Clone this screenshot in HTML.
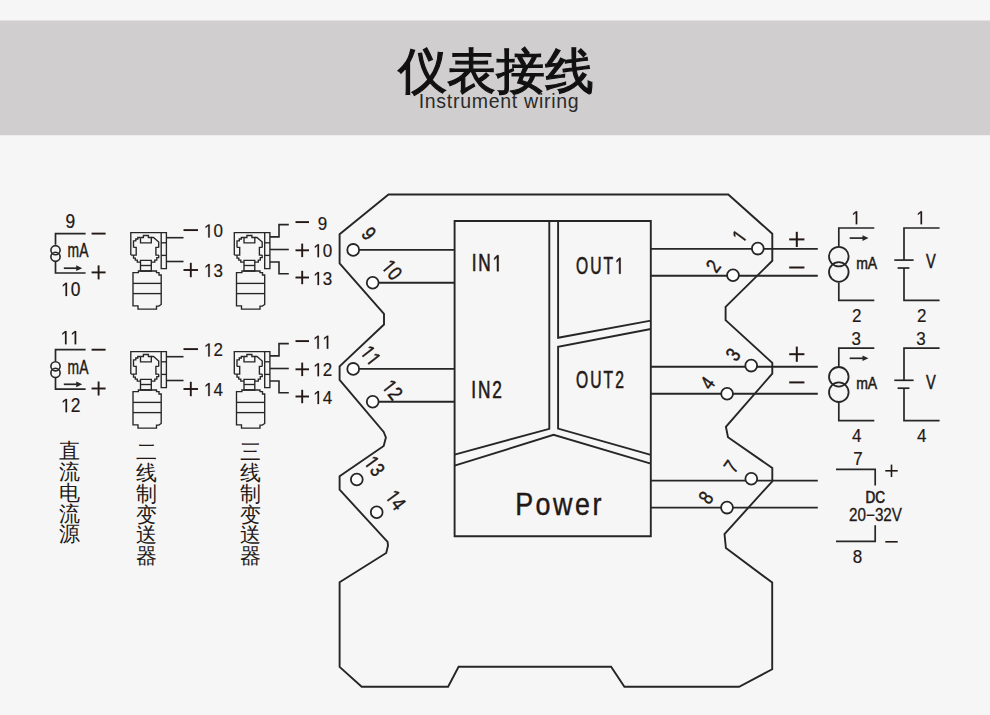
<!DOCTYPE html>
<html><head><meta charset="utf-8"><style>
html,body{margin:0;padding:0;background:#f6f6f6;}
body{width:990px;height:715px;overflow:hidden;position:relative;font-family:"Liberation Sans",sans-serif;}
#title{position:absolute;left:1px;width:990px;top:41px;text-align:center;font-size:48.6px;line-height:60px;color:#111;-webkit-text-stroke:1.2px #111;}
#sub{position:absolute;left:4px;width:990px;top:88.5px;text-align:center;font-size:19.5px;line-height:24px;color:#2a2a2a;letter-spacing:0.72px;}
svg{position:absolute;left:0;top:0;z-index:0;}
#title,#sub{z-index:1;}
</style></head><body>
<div id="title">仪表接线</div>
<div id="sub">Instrument wiring</div>
<svg width="990" height="715" viewBox="0 0 990 715">
<rect x="0" y="20.5" width="990" height="114.7" fill="#d0cecf"/>
<path d="M388.5,194.5 L728.3,194.5 L772.3,233.8 L772.3,260.8 L725.6,306.9 L725.6,320.1 L772.3,362.9 L772.3,373.6 L725.9,426.8 L728.0,437.3 L772.3,468.0 L772.3,481.3 L724.5,534.0 L725.9,548.0 L772.2,582.6 L772.2,669.3 L739.1,686.8 L624.4,686.8 L611.1,666.8 L458.6,666.8 L448.1,686.7 L361.7,686.7 L339.6,666.9 L339.6,582.2 L386.2,553.0 L388.0,545.8 L387.6,541.9 L339.6,489.7 L339.6,476.3 L383.7,446.0 L385.9,437.5 L383.7,432.0 L339.6,379.9 L339.6,366.4 L384.0,324.5 L384.0,313.8 L339.6,263.4 L339.6,234.2 Z" fill="none" stroke="#262626" stroke-width="1.9" stroke-linejoin="miter" stroke-linecap="butt"/>
<path d="M454.6,221.0 L650.8,221.0 L650.8,536.2 L454.6,536.2 Z" fill="none" stroke="#262626" stroke-width="1.9" stroke-linejoin="miter" stroke-linecap="butt"/>
<path d="M549.3,221.0 L549.3,428.8 L454.6,454.6" fill="none" stroke="#262626" stroke-width="1.9" stroke-linejoin="miter" stroke-linecap="butt"/>
<path d="M558.1,221.0 L558.1,337.8 L650.8,320.6" fill="none" stroke="#262626" stroke-width="1.9" stroke-linejoin="miter" stroke-linecap="butt"/>
<path d="M650.8,329.0 L558.1,346.7 L558.1,428.6 L650.8,454.8" fill="none" stroke="#262626" stroke-width="1.9" stroke-linejoin="miter" stroke-linecap="butt"/>
<path d="M454.6,465.7 L553.6,434.8 L650.8,463.6" fill="none" stroke="#262626" stroke-width="1.9" stroke-linejoin="miter" stroke-linecap="butt"/>
<path d="M353.2,249.9 L454.6,249.9" fill="none" stroke="#262626" stroke-width="1.9" stroke-linejoin="miter" stroke-linecap="butt"/>
<path d="M372.7,282.8 L454.6,282.8" fill="none" stroke="#262626" stroke-width="1.9" stroke-linejoin="miter" stroke-linecap="butt"/>
<path d="M353.2,368.9 L454.6,368.9" fill="none" stroke="#262626" stroke-width="1.9" stroke-linejoin="miter" stroke-linecap="butt"/>
<path d="M372.7,401.7 L454.6,401.7" fill="none" stroke="#262626" stroke-width="1.9" stroke-linejoin="miter" stroke-linecap="butt"/>
<path d="M650.8,248.9 L817.8,248.9" fill="none" stroke="#262626" stroke-width="1.9" stroke-linejoin="miter" stroke-linecap="butt"/>
<path d="M650.8,275.8 L817.8,275.8" fill="none" stroke="#262626" stroke-width="1.9" stroke-linejoin="miter" stroke-linecap="butt"/>
<path d="M650.8,366.8 L817.8,366.8" fill="none" stroke="#262626" stroke-width="1.9" stroke-linejoin="miter" stroke-linecap="butt"/>
<path d="M650.8,393.8 L817.8,393.8" fill="none" stroke="#262626" stroke-width="1.9" stroke-linejoin="miter" stroke-linecap="butt"/>
<path d="M650.8,480.6 L817.8,480.6" fill="none" stroke="#262626" stroke-width="1.9" stroke-linejoin="miter" stroke-linecap="butt"/>
<path d="M650.8,507.6 L817.8,507.6" fill="none" stroke="#262626" stroke-width="1.9" stroke-linejoin="miter" stroke-linecap="butt"/>
<circle cx="353.2" cy="249.9" r="5.9" fill="#fff" stroke="#262626" stroke-width="1.8"/>
<circle cx="372.7" cy="282.8" r="5.9" fill="#fff" stroke="#262626" stroke-width="1.8"/>
<circle cx="353.2" cy="368.9" r="5.9" fill="#fff" stroke="#262626" stroke-width="1.8"/>
<circle cx="372.7" cy="401.7" r="5.9" fill="#fff" stroke="#262626" stroke-width="1.8"/>
<circle cx="356.8" cy="479.5" r="5.9" fill="#fff" stroke="#262626" stroke-width="1.8"/>
<circle cx="376.7" cy="512.2" r="5.9" fill="#fff" stroke="#262626" stroke-width="1.8"/>
<circle cx="757.8" cy="248.6" r="5.9" fill="#fff" stroke="#262626" stroke-width="1.8"/>
<circle cx="733.0" cy="275.2" r="5.9" fill="#fff" stroke="#262626" stroke-width="1.8"/>
<circle cx="751.2" cy="365.6" r="5.9" fill="#fff" stroke="#262626" stroke-width="1.8"/>
<circle cx="727.1" cy="393.8" r="5.9" fill="#fff" stroke="#262626" stroke-width="1.8"/>
<circle cx="751.3" cy="478.8" r="5.9" fill="#fff" stroke="#262626" stroke-width="1.8"/>
<circle cx="727.0" cy="507.6" r="5.9" fill="#fff" stroke="#262626" stroke-width="1.8"/>
<g transform="translate(369.00,233.50) rotate(50) scale(0.82,1)" font-family="Liberation Sans" font-size="20.5" font-weight="normal" fill="#231815" stroke="#231815" stroke-width="0.45"><text x="-5.70" y="7.28">9</text></g>
<g transform="translate(392.20,269.70) rotate(50) scale(0.82,1)" font-family="Liberation Sans" font-size="20.5" font-weight="normal" fill="#231815" stroke="#231815" stroke-width="0.45"><path transform="translate(-11.40,7.28) scale(0.01001,-0.01001)" d="M515 0V1237L197 1010V1180L530 1409H696V0Z" fill="#231815" stroke="#231815" stroke-width="45.0"/><text x="0.00" y="7.28">0</text></g>
<g transform="translate(371.00,355.50) rotate(52) scale(0.82,1)" font-family="Liberation Sans" font-size="20.5" font-weight="normal" fill="#231815" stroke="#231815" stroke-width="0.45"><path transform="translate(-11.40,7.28) scale(0.01001,-0.01001)" d="M515 0V1237L197 1010V1180L530 1409H696V0Z" fill="#231815" stroke="#231815" stroke-width="45.0"/><path transform="translate(0.00,7.28) scale(0.01001,-0.01001)" d="M515 0V1237L197 1010V1180L530 1409H696V0Z" fill="#231815" stroke="#231815" stroke-width="45.0"/></g>
<g transform="translate(392.70,389.70) rotate(52) scale(0.82,1)" font-family="Liberation Sans" font-size="20.5" font-weight="normal" fill="#231815" stroke="#231815" stroke-width="0.45"><path transform="translate(-11.40,7.28) scale(0.01001,-0.01001)" d="M515 0V1237L197 1010V1180L530 1409H696V0Z" fill="#231815" stroke="#231815" stroke-width="45.0"/><text x="0.00" y="7.28">2</text></g>
<g transform="translate(374.80,465.90) rotate(54) scale(0.82,1)" font-family="Liberation Sans" font-size="20.5" font-weight="normal" fill="#231815" stroke="#231815" stroke-width="0.45"><path transform="translate(-11.40,7.28) scale(0.01001,-0.01001)" d="M515 0V1237L197 1010V1180L530 1409H696V0Z" fill="#231815" stroke="#231815" stroke-width="45.0"/><text x="0.00" y="7.28">3</text></g>
<g transform="translate(396.00,500.00) rotate(54) scale(0.82,1)" font-family="Liberation Sans" font-size="20.5" font-weight="normal" fill="#231815" stroke="#231815" stroke-width="0.45"><path transform="translate(-11.40,7.28) scale(0.01001,-0.01001)" d="M515 0V1237L197 1010V1180L530 1409H696V0Z" fill="#231815" stroke="#231815" stroke-width="45.0"/><text x="0.00" y="7.28">4</text></g>
<g transform="translate(739.40,236.00) rotate(-54) scale(0.82,1)" font-family="Liberation Sans" font-size="20.5" font-weight="normal" fill="#231815" stroke="#231815" stroke-width="0.45"><path transform="translate(-5.70,7.28) scale(0.01001,-0.01001)" d="M515 0V1237L197 1010V1180L530 1409H696V0Z" fill="#231815" stroke="#231815" stroke-width="45.0"/></g>
<g transform="translate(713.20,266.00) rotate(-54) scale(0.82,1)" font-family="Liberation Sans" font-size="20.5" font-weight="normal" fill="#231815" stroke="#231815" stroke-width="0.45"><text x="-5.70" y="7.28">2</text></g>
<g transform="translate(732.80,354.50) rotate(-54) scale(0.82,1)" font-family="Liberation Sans" font-size="20.5" font-weight="normal" fill="#231815" stroke="#231815" stroke-width="0.45"><text x="-5.70" y="7.28">3</text></g>
<g transform="translate(707.40,383.00) rotate(-54) scale(0.82,1)" font-family="Liberation Sans" font-size="20.5" font-weight="normal" fill="#231815" stroke="#231815" stroke-width="0.45"><text x="-5.70" y="7.28">4</text></g>
<g transform="translate(731.00,466.40) rotate(-55) scale(0.82,1)" font-family="Liberation Sans" font-size="20.5" font-weight="normal" fill="#231815" stroke="#231815" stroke-width="0.45"><text x="-5.70" y="7.28">7</text></g>
<g transform="translate(705.70,497.50) rotate(-55) scale(0.82,1)" font-family="Liberation Sans" font-size="20.5" font-weight="normal" fill="#231815" stroke="#231815" stroke-width="0.45"><text x="-5.70" y="7.28">8</text></g>
<g transform="translate(487.00,263.00) scale(0.75,1)" font-family="Liberation Sans" font-size="23" font-weight="normal" fill="#231815" stroke="#231815" stroke-width="0.6"><text x="-20.40" y="8.16">I</text><text x="-11.51" y="8.16">N</text><path transform="translate(7.60,8.16) scale(0.01123,-0.01123)" d="M515 0V1237L197 1010V1180L530 1409H696V0Z" fill="#231815" stroke="#231815" stroke-width="53.4"/></g>
<g transform="translate(600.00,265.50) scale(0.68,1)" font-family="Liberation Sans" font-size="23" font-weight="normal" fill="#231815" stroke="#231815" stroke-width="0.6"><text x="-35.17" y="8.16">O</text><text x="-14.28" y="8.16">U</text><text x="5.33" y="8.16">T</text><path transform="translate(22.38,8.16) scale(0.01123,-0.01123)" d="M515 0V1237L197 1010V1180L530 1409H696V0Z" fill="#231815" stroke="#231815" stroke-width="53.4"/></g>
<g transform="translate(486.60,389.60) scale(0.75,1)" font-family="Liberation Sans" font-size="23" font-weight="normal" fill="#231815" stroke="#231815" stroke-width="0.6"><text x="-20.40" y="8.16">I</text><text x="-11.51" y="8.16">N</text><text x="7.60" y="8.16">2</text></g>
<g transform="translate(600.00,379.40) scale(0.68,1)" font-family="Liberation Sans" font-size="23" font-weight="normal" fill="#231815" stroke="#231815" stroke-width="0.6"><text x="-35.17" y="8.16">O</text><text x="-14.28" y="8.16">U</text><text x="5.33" y="8.16">T</text><text x="22.38" y="8.16">2</text></g>
<g transform="translate(558.30,503.90) scale(0.84,1)" font-family="Liberation Sans" font-size="32" font-weight="normal" fill="#231815" stroke="#231815" stroke-width="0.45"><text x="-51.35" y="11.36">P</text><text x="-27.01" y="11.36">o</text><text x="-6.21" y="11.36">w</text><text x="19.90" y="11.36">e</text><text x="40.70" y="11.36">r</text></g>
<path d="M85.6,233.6 L55.5,233.6 L55.5,244.8" fill="none" stroke="#262626" stroke-width="1.7" stroke-linejoin="miter" stroke-linecap="butt"/>
<circle cx="55.5" cy="250.2" r="4.6" fill="none" stroke="#262626" stroke-width="1.6"/>
<circle cx="55.5" cy="256.8" r="4.6" fill="none" stroke="#262626" stroke-width="1.6"/>
<path d="M55.5,261.8 L55.5,273.0 L85.6,273.0" fill="none" stroke="#262626" stroke-width="1.7" stroke-linejoin="miter" stroke-linecap="butt"/>
<path d="M63.8,268.2 L76.7,268.2" fill="none" stroke="#262626" stroke-width="1.7" stroke-linejoin="miter" stroke-linecap="butt"/>
<path d="M76.2,265.3 L82.2,268.2 L76.2,271.1 Z" fill="#262626"/>
<g transform="translate(78.00,250.60) scale(0.72,1)" font-family="Liberation Sans" font-size="19.3" font-weight="normal" fill="#231815" stroke="#231815" stroke-width="0.4"><text x="-14.48" y="6.85">m</text><text x="1.60" y="6.85">A</text></g>
<g transform="translate(70.30,221.40) scale(0.9,1)" font-family="Liberation Sans" font-size="19.3" font-weight="normal" fill="#231815" stroke="#231815" stroke-width="0.2"><text x="-5.37" y="6.85">9</text></g>
<g transform="translate(70.80,289.20) scale(0.9,1)" font-family="Liberation Sans" font-size="19.3" font-weight="normal" fill="#231815" stroke="#231815" stroke-width="0.2"><path transform="translate(-10.73,6.85) scale(0.00942,-0.00942)" d="M515 0V1237L197 1010V1180L530 1409H696V0Z" fill="#231815" stroke="#231815" stroke-width="21.2"/><text x="0.00" y="6.85">0</text></g>
<path d="M91.6,233.6 L105.6,233.6" fill="none" stroke="#231815" stroke-width="1.9" stroke-linejoin="miter" stroke-linecap="butt"/>
<path d="M91.6,272.4 L105.6,272.4" fill="none" stroke="#231815" stroke-width="1.9" stroke-linejoin="miter" stroke-linecap="butt"/>
<path d="M98.6,265.4 L98.6,279.4" fill="none" stroke="#231815" stroke-width="1.9" stroke-linejoin="miter" stroke-linecap="butt"/>
<path d="M85.6,349.7 L55.5,349.7 L55.5,360.9" fill="none" stroke="#262626" stroke-width="1.7" stroke-linejoin="miter" stroke-linecap="butt"/>
<circle cx="55.5" cy="366.3" r="4.6" fill="none" stroke="#262626" stroke-width="1.6"/>
<circle cx="55.5" cy="372.9" r="4.6" fill="none" stroke="#262626" stroke-width="1.6"/>
<path d="M55.5,377.9 L55.5,389.1 L85.6,389.1" fill="none" stroke="#262626" stroke-width="1.7" stroke-linejoin="miter" stroke-linecap="butt"/>
<path d="M63.8,384.3 L76.7,384.3" fill="none" stroke="#262626" stroke-width="1.7" stroke-linejoin="miter" stroke-linecap="butt"/>
<path d="M76.2,381.4 L82.2,384.3 L76.2,387.2 Z" fill="#262626"/>
<g transform="translate(78.00,366.70) scale(0.72,1)" font-family="Liberation Sans" font-size="19.3" font-weight="normal" fill="#231815" stroke="#231815" stroke-width="0.4"><text x="-14.48" y="6.85">m</text><text x="1.60" y="6.85">A</text></g>
<g transform="translate(70.30,337.50) scale(0.9,1)" font-family="Liberation Sans" font-size="19.3" font-weight="normal" fill="#231815" stroke="#231815" stroke-width="0.2"><path transform="translate(-10.73,6.85) scale(0.00942,-0.00942)" d="M515 0V1237L197 1010V1180L530 1409H696V0Z" fill="#231815" stroke="#231815" stroke-width="21.2"/><path transform="translate(0.00,6.85) scale(0.00942,-0.00942)" d="M515 0V1237L197 1010V1180L530 1409H696V0Z" fill="#231815" stroke="#231815" stroke-width="21.2"/></g>
<g transform="translate(70.80,405.30) scale(0.9,1)" font-family="Liberation Sans" font-size="19.3" font-weight="normal" fill="#231815" stroke="#231815" stroke-width="0.2"><path transform="translate(-10.73,6.85) scale(0.00942,-0.00942)" d="M515 0V1237L197 1010V1180L530 1409H696V0Z" fill="#231815" stroke="#231815" stroke-width="21.2"/><text x="0.00" y="6.85">2</text></g>
<path d="M91.6,349.7 L105.6,349.7" fill="none" stroke="#231815" stroke-width="1.9" stroke-linejoin="miter" stroke-linecap="butt"/>
<path d="M91.6,388.5 L105.6,388.5" fill="none" stroke="#231815" stroke-width="1.9" stroke-linejoin="miter" stroke-linecap="butt"/>
<path d="M98.6,381.5 L98.6,395.5" fill="none" stroke="#231815" stroke-width="1.9" stroke-linejoin="miter" stroke-linecap="butt"/>
<path d="M130.8,255.1 L130.8,232.6 L166.4,232.6 L166.4,268.6 L161.2,268.6 L161.2,232.6" fill="none" stroke="#262626" stroke-width="1.35" stroke-linejoin="miter" stroke-linecap="butt"/>
<path d="M161.2,242.8 L166.4,242.8" fill="none" stroke="#262626" stroke-width="1.35" stroke-linejoin="miter" stroke-linecap="butt"/>
<path d="M161.2,255.4 L166.4,255.4" fill="none" stroke="#262626" stroke-width="1.35" stroke-linejoin="miter" stroke-linecap="butt"/>
<path d="M133.5,247.4 L136.2,247.4 L136.2,255.1 L130.8,255.1" fill="none" stroke="#262626" stroke-width="1.35" stroke-linejoin="miter" stroke-linecap="butt"/>
<path d="M158.7,247.4 L155.9,247.4 L155.9,255.1 L158.7,255.1" fill="none" stroke="#262626" stroke-width="1.35" stroke-linejoin="miter" stroke-linecap="butt"/>
<path d="M133.5,247.4 L133.5,240.8 L135.8,240.8 L135.8,239.0 L137.8,239.0 L137.8,237.5 L140.5,237.5" fill="none" stroke="#262626" stroke-width="1.35" stroke-linejoin="miter" stroke-linecap="butt"/>
<path d="M151.3,237.5 L153.5,237.5 L158.7,242.0 L158.7,247.4" fill="none" stroke="#262626" stroke-width="1.35" stroke-linejoin="miter" stroke-linecap="butt"/>
<path d="M133.5,255.1 L133.5,258.1 L135.3,258.1 L135.3,260.1 L137.3,260.1 L137.3,262.1 L140.5,262.1" fill="none" stroke="#262626" stroke-width="1.35" stroke-linejoin="miter" stroke-linecap="butt"/>
<path d="M158.7,255.1 L158.7,257.6 L156.8,257.6 L156.8,260.1 L154.8,260.1 L154.8,262.1 L151.3,262.1" fill="none" stroke="#262626" stroke-width="1.35" stroke-linejoin="miter" stroke-linecap="butt"/>
<path d="M140.5,237.5 L140.5,242.8 L151.3,242.8 L151.3,237.5 L148.4,237.5 L148.4,235.5 L143.4,235.5 L143.4,237.5 L140.5,237.5" fill="none" stroke="#262626" stroke-width="1.35" stroke-linejoin="miter" stroke-linecap="butt"/>
<path d="M140.5,260.3 L151.3,260.3 L151.3,271.0 L140.5,271.0 Z" fill="none" stroke="#262626" stroke-width="1.35" stroke-linejoin="miter" stroke-linecap="butt"/>
<path d="M140.5,265.5 L151.3,265.5" fill="none" stroke="#262626" stroke-width="1.35" stroke-linejoin="miter" stroke-linecap="butt"/>
<path d="M138.4,271.0 L138.4,272.6 L133.0,272.6 L133.0,305.8 L138.0,305.8 L138.0,309.1 L156.5,309.1 L156.5,306.1 L158.8,306.1 L161.2,304.5 L161.2,275.0 L159.0,275.0 L159.0,272.6 L156.5,272.6 L156.5,271.0 Z" fill="none" stroke="#262626" stroke-width="1.35" stroke-linejoin="miter" stroke-linecap="butt"/>
<path d="M133.0,283.4 L161.2,283.4" fill="none" stroke="#262626" stroke-width="1.35" stroke-linejoin="miter" stroke-linecap="butt"/>
<path d="M133.0,293.6 L161.2,293.6" fill="none" stroke="#262626" stroke-width="1.35" stroke-linejoin="miter" stroke-linecap="butt"/>
<path d="M166.4,237.7 L183.5,237.7" fill="none" stroke="#262626" stroke-width="1.6" stroke-linejoin="miter" stroke-linecap="butt"/>
<path d="M166.4,261.5 L183.5,261.5" fill="none" stroke="#262626" stroke-width="1.6" stroke-linejoin="miter" stroke-linecap="butt"/>
<path d="M183.5,230.1 L198.0,230.1" fill="none" stroke="#231815" stroke-width="1.9" stroke-linejoin="miter" stroke-linecap="butt"/>
<g transform="translate(213.40,230.70) scale(0.9,1)" font-family="Liberation Sans" font-size="18.9" font-weight="normal" fill="#231815" stroke="#231815" stroke-width="0.2"><path transform="translate(-10.51,6.71) scale(0.00923,-0.00923)" d="M515 0V1237L197 1010V1180L530 1409H696V0Z" fill="#231815" stroke="#231815" stroke-width="21.7"/><text x="0.00" y="6.71">0</text></g>
<path d="M183.5,270.0 L198.0,270.0" fill="none" stroke="#231815" stroke-width="1.9" stroke-linejoin="miter" stroke-linecap="butt"/>
<path d="M190.8,262.8 L190.8,277.2" fill="none" stroke="#231815" stroke-width="1.9" stroke-linejoin="miter" stroke-linecap="butt"/>
<g transform="translate(213.40,270.40) scale(0.9,1)" font-family="Liberation Sans" font-size="18.9" font-weight="normal" fill="#231815" stroke="#231815" stroke-width="0.2"><path transform="translate(-10.51,6.71) scale(0.00923,-0.00923)" d="M515 0V1237L197 1010V1180L530 1409H696V0Z" fill="#231815" stroke="#231815" stroke-width="21.7"/><text x="0.00" y="6.71">3</text></g>
<path d="M234.3,255.1 L234.3,232.6 L269.9,232.6 L269.9,268.6 L264.7,268.6 L264.7,232.6" fill="none" stroke="#262626" stroke-width="1.35" stroke-linejoin="miter" stroke-linecap="butt"/>
<path d="M264.7,242.8 L269.9,242.8" fill="none" stroke="#262626" stroke-width="1.35" stroke-linejoin="miter" stroke-linecap="butt"/>
<path d="M264.7,255.4 L269.9,255.4" fill="none" stroke="#262626" stroke-width="1.35" stroke-linejoin="miter" stroke-linecap="butt"/>
<path d="M237.0,247.4 L239.7,247.4 L239.7,255.1 L234.3,255.1" fill="none" stroke="#262626" stroke-width="1.35" stroke-linejoin="miter" stroke-linecap="butt"/>
<path d="M262.2,247.4 L259.4,247.4 L259.4,255.1 L262.2,255.1" fill="none" stroke="#262626" stroke-width="1.35" stroke-linejoin="miter" stroke-linecap="butt"/>
<path d="M237.0,247.4 L237.0,240.8 L239.3,240.8 L239.3,239.0 L241.3,239.0 L241.3,237.5 L244.0,237.5" fill="none" stroke="#262626" stroke-width="1.35" stroke-linejoin="miter" stroke-linecap="butt"/>
<path d="M254.8,237.5 L257.0,237.5 L262.2,242.0 L262.2,247.4" fill="none" stroke="#262626" stroke-width="1.35" stroke-linejoin="miter" stroke-linecap="butt"/>
<path d="M237.0,255.1 L237.0,258.1 L238.8,258.1 L238.8,260.1 L240.8,260.1 L240.8,262.1 L244.0,262.1" fill="none" stroke="#262626" stroke-width="1.35" stroke-linejoin="miter" stroke-linecap="butt"/>
<path d="M262.2,255.1 L262.2,257.6 L260.3,257.6 L260.3,260.1 L258.3,260.1 L258.3,262.1 L254.8,262.1" fill="none" stroke="#262626" stroke-width="1.35" stroke-linejoin="miter" stroke-linecap="butt"/>
<path d="M244.0,237.5 L244.0,242.8 L254.8,242.8 L254.8,237.5 L251.9,237.5 L251.9,235.5 L246.9,235.5 L246.9,237.5 L244.0,237.5" fill="none" stroke="#262626" stroke-width="1.35" stroke-linejoin="miter" stroke-linecap="butt"/>
<path d="M244.0,260.3 L254.8,260.3 L254.8,271.0 L244.0,271.0 Z" fill="none" stroke="#262626" stroke-width="1.35" stroke-linejoin="miter" stroke-linecap="butt"/>
<path d="M244.0,265.5 L254.8,265.5" fill="none" stroke="#262626" stroke-width="1.35" stroke-linejoin="miter" stroke-linecap="butt"/>
<path d="M241.9,271.0 L241.9,272.6 L236.5,272.6 L236.5,305.8 L241.5,305.8 L241.5,309.1 L260.0,309.1 L260.0,306.1 L262.3,306.1 L264.7,304.5 L264.7,275.0 L262.5,275.0 L262.5,272.6 L260.0,272.6 L260.0,271.0 Z" fill="none" stroke="#262626" stroke-width="1.35" stroke-linejoin="miter" stroke-linecap="butt"/>
<path d="M236.5,283.4 L264.7,283.4" fill="none" stroke="#262626" stroke-width="1.35" stroke-linejoin="miter" stroke-linecap="butt"/>
<path d="M236.5,293.6 L264.7,293.6" fill="none" stroke="#262626" stroke-width="1.35" stroke-linejoin="miter" stroke-linecap="butt"/>
<path d="M270.0,236.9 L279.0,236.9 L279.0,224.6 L288.8,224.6" fill="none" stroke="#262626" stroke-width="1.6" stroke-linejoin="miter" stroke-linecap="butt"/>
<path d="M270.0,249.5 L288.8,249.5" fill="none" stroke="#262626" stroke-width="1.6" stroke-linejoin="miter" stroke-linecap="butt"/>
<path d="M270.0,262.0 L279.0,262.0 L279.0,273.8 L288.8,273.8" fill="none" stroke="#262626" stroke-width="1.6" stroke-linejoin="miter" stroke-linecap="butt"/>
<path d="M295.5,222.1 L309.0,222.1" fill="none" stroke="#231815" stroke-width="1.9" stroke-linejoin="miter" stroke-linecap="butt"/>
<g transform="translate(322.50,223.00) scale(0.9,1)" font-family="Liberation Sans" font-size="18.9" font-weight="normal" fill="#231815" stroke="#231815" stroke-width="0.2"><text x="-5.26" y="6.71">9</text></g>
<path d="M295.5,250.3 L309.0,250.3" fill="none" stroke="#231815" stroke-width="1.9" stroke-linejoin="miter" stroke-linecap="butt"/>
<path d="M302.2,243.6 L302.2,257.1" fill="none" stroke="#231815" stroke-width="1.9" stroke-linejoin="miter" stroke-linecap="butt"/>
<g transform="translate(322.70,250.50) scale(0.9,1)" font-family="Liberation Sans" font-size="18.9" font-weight="normal" fill="#231815" stroke="#231815" stroke-width="0.2"><path transform="translate(-10.51,6.71) scale(0.00923,-0.00923)" d="M515 0V1237L197 1010V1180L530 1409H696V0Z" fill="#231815" stroke="#231815" stroke-width="21.7"/><text x="0.00" y="6.71">0</text></g>
<path d="M295.5,277.5 L309.0,277.5" fill="none" stroke="#231815" stroke-width="1.9" stroke-linejoin="miter" stroke-linecap="butt"/>
<path d="M302.2,270.8 L302.2,284.2" fill="none" stroke="#231815" stroke-width="1.9" stroke-linejoin="miter" stroke-linecap="butt"/>
<g transform="translate(322.70,278.40) scale(0.9,1)" font-family="Liberation Sans" font-size="18.9" font-weight="normal" fill="#231815" stroke="#231815" stroke-width="0.2"><path transform="translate(-10.51,6.71) scale(0.00923,-0.00923)" d="M515 0V1237L197 1010V1180L530 1409H696V0Z" fill="#231815" stroke="#231815" stroke-width="21.7"/><text x="0.00" y="6.71">3</text></g>
<path d="M130.8,374.1 L130.8,351.6 L166.4,351.6 L166.4,387.6 L161.2,387.6 L161.2,351.6" fill="none" stroke="#262626" stroke-width="1.35" stroke-linejoin="miter" stroke-linecap="butt"/>
<path d="M161.2,361.8 L166.4,361.8" fill="none" stroke="#262626" stroke-width="1.35" stroke-linejoin="miter" stroke-linecap="butt"/>
<path d="M161.2,374.4 L166.4,374.4" fill="none" stroke="#262626" stroke-width="1.35" stroke-linejoin="miter" stroke-linecap="butt"/>
<path d="M133.5,366.4 L136.2,366.4 L136.2,374.1 L130.8,374.1" fill="none" stroke="#262626" stroke-width="1.35" stroke-linejoin="miter" stroke-linecap="butt"/>
<path d="M158.7,366.4 L155.9,366.4 L155.9,374.1 L158.7,374.1" fill="none" stroke="#262626" stroke-width="1.35" stroke-linejoin="miter" stroke-linecap="butt"/>
<path d="M133.5,366.4 L133.5,359.8 L135.8,359.8 L135.8,358.0 L137.8,358.0 L137.8,356.5 L140.5,356.5" fill="none" stroke="#262626" stroke-width="1.35" stroke-linejoin="miter" stroke-linecap="butt"/>
<path d="M151.3,356.5 L153.5,356.5 L158.7,361.0 L158.7,366.4" fill="none" stroke="#262626" stroke-width="1.35" stroke-linejoin="miter" stroke-linecap="butt"/>
<path d="M133.5,374.1 L133.5,377.1 L135.3,377.1 L135.3,379.1 L137.3,379.1 L137.3,381.1 L140.5,381.1" fill="none" stroke="#262626" stroke-width="1.35" stroke-linejoin="miter" stroke-linecap="butt"/>
<path d="M158.7,374.1 L158.7,376.6 L156.8,376.6 L156.8,379.1 L154.8,379.1 L154.8,381.1 L151.3,381.1" fill="none" stroke="#262626" stroke-width="1.35" stroke-linejoin="miter" stroke-linecap="butt"/>
<path d="M140.5,356.5 L140.5,361.8 L151.3,361.8 L151.3,356.5 L148.4,356.5 L148.4,354.5 L143.4,354.5 L143.4,356.5 L140.5,356.5" fill="none" stroke="#262626" stroke-width="1.35" stroke-linejoin="miter" stroke-linecap="butt"/>
<path d="M140.5,379.3 L151.3,379.3 L151.3,390.0 L140.5,390.0 Z" fill="none" stroke="#262626" stroke-width="1.35" stroke-linejoin="miter" stroke-linecap="butt"/>
<path d="M140.5,384.5 L151.3,384.5" fill="none" stroke="#262626" stroke-width="1.35" stroke-linejoin="miter" stroke-linecap="butt"/>
<path d="M138.4,390.0 L138.4,391.6 L133.0,391.6 L133.0,424.8 L138.0,424.8 L138.0,428.1 L156.5,428.1 L156.5,425.1 L158.8,425.1 L161.2,423.5 L161.2,394.0 L159.0,394.0 L159.0,391.6 L156.5,391.6 L156.5,390.0 Z" fill="none" stroke="#262626" stroke-width="1.35" stroke-linejoin="miter" stroke-linecap="butt"/>
<path d="M133.0,402.4 L161.2,402.4" fill="none" stroke="#262626" stroke-width="1.35" stroke-linejoin="miter" stroke-linecap="butt"/>
<path d="M133.0,412.6 L161.2,412.6" fill="none" stroke="#262626" stroke-width="1.35" stroke-linejoin="miter" stroke-linecap="butt"/>
<path d="M166.4,356.7 L183.5,356.7" fill="none" stroke="#262626" stroke-width="1.6" stroke-linejoin="miter" stroke-linecap="butt"/>
<path d="M166.4,380.5 L183.5,380.5" fill="none" stroke="#262626" stroke-width="1.6" stroke-linejoin="miter" stroke-linecap="butt"/>
<path d="M183.5,349.1 L198.0,349.1" fill="none" stroke="#231815" stroke-width="1.9" stroke-linejoin="miter" stroke-linecap="butt"/>
<g transform="translate(213.40,349.70) scale(0.9,1)" font-family="Liberation Sans" font-size="18.9" font-weight="normal" fill="#231815" stroke="#231815" stroke-width="0.2"><path transform="translate(-10.51,6.71) scale(0.00923,-0.00923)" d="M515 0V1237L197 1010V1180L530 1409H696V0Z" fill="#231815" stroke="#231815" stroke-width="21.7"/><text x="0.00" y="6.71">2</text></g>
<path d="M183.5,389.0 L198.0,389.0" fill="none" stroke="#231815" stroke-width="1.9" stroke-linejoin="miter" stroke-linecap="butt"/>
<path d="M190.8,381.8 L190.8,396.2" fill="none" stroke="#231815" stroke-width="1.9" stroke-linejoin="miter" stroke-linecap="butt"/>
<g transform="translate(213.40,389.40) scale(0.9,1)" font-family="Liberation Sans" font-size="18.9" font-weight="normal" fill="#231815" stroke="#231815" stroke-width="0.2"><path transform="translate(-10.51,6.71) scale(0.00923,-0.00923)" d="M515 0V1237L197 1010V1180L530 1409H696V0Z" fill="#231815" stroke="#231815" stroke-width="21.7"/><text x="0.00" y="6.71">4</text></g>
<path d="M234.3,374.1 L234.3,351.6 L269.9,351.6 L269.9,387.6 L264.7,387.6 L264.7,351.6" fill="none" stroke="#262626" stroke-width="1.35" stroke-linejoin="miter" stroke-linecap="butt"/>
<path d="M264.7,361.8 L269.9,361.8" fill="none" stroke="#262626" stroke-width="1.35" stroke-linejoin="miter" stroke-linecap="butt"/>
<path d="M264.7,374.4 L269.9,374.4" fill="none" stroke="#262626" stroke-width="1.35" stroke-linejoin="miter" stroke-linecap="butt"/>
<path d="M237.0,366.4 L239.7,366.4 L239.7,374.1 L234.3,374.1" fill="none" stroke="#262626" stroke-width="1.35" stroke-linejoin="miter" stroke-linecap="butt"/>
<path d="M262.2,366.4 L259.4,366.4 L259.4,374.1 L262.2,374.1" fill="none" stroke="#262626" stroke-width="1.35" stroke-linejoin="miter" stroke-linecap="butt"/>
<path d="M237.0,366.4 L237.0,359.8 L239.3,359.8 L239.3,358.0 L241.3,358.0 L241.3,356.5 L244.0,356.5" fill="none" stroke="#262626" stroke-width="1.35" stroke-linejoin="miter" stroke-linecap="butt"/>
<path d="M254.8,356.5 L257.0,356.5 L262.2,361.0 L262.2,366.4" fill="none" stroke="#262626" stroke-width="1.35" stroke-linejoin="miter" stroke-linecap="butt"/>
<path d="M237.0,374.1 L237.0,377.1 L238.8,377.1 L238.8,379.1 L240.8,379.1 L240.8,381.1 L244.0,381.1" fill="none" stroke="#262626" stroke-width="1.35" stroke-linejoin="miter" stroke-linecap="butt"/>
<path d="M262.2,374.1 L262.2,376.6 L260.3,376.6 L260.3,379.1 L258.3,379.1 L258.3,381.1 L254.8,381.1" fill="none" stroke="#262626" stroke-width="1.35" stroke-linejoin="miter" stroke-linecap="butt"/>
<path d="M244.0,356.5 L244.0,361.8 L254.8,361.8 L254.8,356.5 L251.9,356.5 L251.9,354.5 L246.9,354.5 L246.9,356.5 L244.0,356.5" fill="none" stroke="#262626" stroke-width="1.35" stroke-linejoin="miter" stroke-linecap="butt"/>
<path d="M244.0,379.3 L254.8,379.3 L254.8,390.0 L244.0,390.0 Z" fill="none" stroke="#262626" stroke-width="1.35" stroke-linejoin="miter" stroke-linecap="butt"/>
<path d="M244.0,384.5 L254.8,384.5" fill="none" stroke="#262626" stroke-width="1.35" stroke-linejoin="miter" stroke-linecap="butt"/>
<path d="M241.9,390.0 L241.9,391.6 L236.5,391.6 L236.5,424.8 L241.5,424.8 L241.5,428.1 L260.0,428.1 L260.0,425.1 L262.3,425.1 L264.7,423.5 L264.7,394.0 L262.5,394.0 L262.5,391.6 L260.0,391.6 L260.0,390.0 Z" fill="none" stroke="#262626" stroke-width="1.35" stroke-linejoin="miter" stroke-linecap="butt"/>
<path d="M236.5,402.4 L264.7,402.4" fill="none" stroke="#262626" stroke-width="1.35" stroke-linejoin="miter" stroke-linecap="butt"/>
<path d="M236.5,412.6 L264.7,412.6" fill="none" stroke="#262626" stroke-width="1.35" stroke-linejoin="miter" stroke-linecap="butt"/>
<path d="M270.0,355.9 L279.0,355.9 L279.0,343.6 L288.8,343.6" fill="none" stroke="#262626" stroke-width="1.6" stroke-linejoin="miter" stroke-linecap="butt"/>
<path d="M270.0,368.5 L288.8,368.5" fill="none" stroke="#262626" stroke-width="1.6" stroke-linejoin="miter" stroke-linecap="butt"/>
<path d="M270.0,381.0 L279.0,381.0 L279.0,392.8 L288.8,392.8" fill="none" stroke="#262626" stroke-width="1.6" stroke-linejoin="miter" stroke-linecap="butt"/>
<path d="M295.5,341.1 L309.0,341.1" fill="none" stroke="#231815" stroke-width="1.9" stroke-linejoin="miter" stroke-linecap="butt"/>
<g transform="translate(322.50,342.00) scale(0.9,1)" font-family="Liberation Sans" font-size="18.9" font-weight="normal" fill="#231815" stroke="#231815" stroke-width="0.2"><path transform="translate(-10.51,6.71) scale(0.00923,-0.00923)" d="M515 0V1237L197 1010V1180L530 1409H696V0Z" fill="#231815" stroke="#231815" stroke-width="21.7"/><path transform="translate(0.00,6.71) scale(0.00923,-0.00923)" d="M515 0V1237L197 1010V1180L530 1409H696V0Z" fill="#231815" stroke="#231815" stroke-width="21.7"/></g>
<path d="M295.5,369.3 L309.0,369.3" fill="none" stroke="#231815" stroke-width="1.9" stroke-linejoin="miter" stroke-linecap="butt"/>
<path d="M302.2,362.6 L302.2,376.1" fill="none" stroke="#231815" stroke-width="1.9" stroke-linejoin="miter" stroke-linecap="butt"/>
<g transform="translate(322.70,369.50) scale(0.9,1)" font-family="Liberation Sans" font-size="18.9" font-weight="normal" fill="#231815" stroke="#231815" stroke-width="0.2"><path transform="translate(-10.51,6.71) scale(0.00923,-0.00923)" d="M515 0V1237L197 1010V1180L530 1409H696V0Z" fill="#231815" stroke="#231815" stroke-width="21.7"/><text x="0.00" y="6.71">2</text></g>
<path d="M295.5,396.5 L309.0,396.5" fill="none" stroke="#231815" stroke-width="1.9" stroke-linejoin="miter" stroke-linecap="butt"/>
<path d="M302.2,389.8 L302.2,403.2" fill="none" stroke="#231815" stroke-width="1.9" stroke-linejoin="miter" stroke-linecap="butt"/>
<g transform="translate(322.70,397.40) scale(0.9,1)" font-family="Liberation Sans" font-size="18.9" font-weight="normal" fill="#231815" stroke="#231815" stroke-width="0.2"><path transform="translate(-10.51,6.71) scale(0.00923,-0.00923)" d="M515 0V1237L197 1010V1180L530 1409H696V0Z" fill="#231815" stroke="#231815" stroke-width="21.7"/><text x="0.00" y="6.71">4</text></g>
<text x="69.6" y="458.0" font-family="Liberation Sans" font-size="20.5" fill="#231815" text-anchor="middle">直</text>
<text x="69.6" y="478.9" font-family="Liberation Sans" font-size="20.5" fill="#231815" text-anchor="middle">流</text>
<text x="69.6" y="499.7" font-family="Liberation Sans" font-size="20.5" fill="#231815" text-anchor="middle">电</text>
<text x="69.6" y="520.5" font-family="Liberation Sans" font-size="20.5" fill="#231815" text-anchor="middle">流</text>
<text x="69.6" y="541.4" font-family="Liberation Sans" font-size="20.5" fill="#231815" text-anchor="middle">源</text>
<text x="146.4" y="459.0" font-family="Liberation Sans" font-size="20.5" fill="#231815" text-anchor="middle">二</text>
<text x="146.4" y="479.9" font-family="Liberation Sans" font-size="20.5" fill="#231815" text-anchor="middle">线</text>
<text x="146.4" y="500.7" font-family="Liberation Sans" font-size="20.5" fill="#231815" text-anchor="middle">制</text>
<text x="146.4" y="521.5" font-family="Liberation Sans" font-size="20.5" fill="#231815" text-anchor="middle">变</text>
<text x="146.4" y="542.4" font-family="Liberation Sans" font-size="20.5" fill="#231815" text-anchor="middle">送</text>
<text x="146.4" y="563.2" font-family="Liberation Sans" font-size="20.5" fill="#231815" text-anchor="middle">器</text>
<text x="250.0" y="459.0" font-family="Liberation Sans" font-size="20.5" fill="#231815" text-anchor="middle">三</text>
<text x="250.0" y="479.9" font-family="Liberation Sans" font-size="20.5" fill="#231815" text-anchor="middle">线</text>
<text x="250.0" y="500.7" font-family="Liberation Sans" font-size="20.5" fill="#231815" text-anchor="middle">制</text>
<text x="250.0" y="521.5" font-family="Liberation Sans" font-size="20.5" fill="#231815" text-anchor="middle">变</text>
<text x="250.0" y="542.4" font-family="Liberation Sans" font-size="20.5" fill="#231815" text-anchor="middle">送</text>
<text x="250.0" y="563.2" font-family="Liberation Sans" font-size="20.5" fill="#231815" text-anchor="middle">器</text>
<path d="M789.2,239.4 L804.4,239.4" fill="none" stroke="#231815" stroke-width="2.0" stroke-linejoin="miter" stroke-linecap="butt"/>
<path d="M796.8,231.8 L796.8,247.0" fill="none" stroke="#231815" stroke-width="2.0" stroke-linejoin="miter" stroke-linecap="butt"/>
<path d="M789.2,267.5 L804.4,267.5" fill="none" stroke="#231815" stroke-width="2.0" stroke-linejoin="miter" stroke-linecap="butt"/>
<path d="M874.3,228.0 L838.8,228.0 L838.8,246.1" fill="none" stroke="#262626" stroke-width="1.7" stroke-linejoin="miter" stroke-linecap="butt"/>
<circle cx="838.8" cy="256.6" r="9.8" fill="none" stroke="#262626" stroke-width="1.8"/>
<circle cx="838.8" cy="272.0" r="9.8" fill="none" stroke="#262626" stroke-width="1.8"/>
<path d="M838.8,282.6 L838.8,300.4 L874.3,300.4" fill="none" stroke="#262626" stroke-width="1.7" stroke-linejoin="miter" stroke-linecap="butt"/>
<path d="M849.7,238.1 L863.0,238.1" fill="none" stroke="#262626" stroke-width="1.7" stroke-linejoin="miter" stroke-linecap="butt"/>
<path d="M862.5,235.3 L868.5,238.1 L862.5,240.9 Z" fill="#262626"/>
<g transform="translate(866.70,262.80) scale(0.85,1)" font-family="Liberation Sans" font-size="16.5" font-weight="normal" fill="#231815" stroke="#231815" stroke-width="0.5"><text x="-12.38" y="5.86">m</text><text x="1.37" y="5.86">A</text></g>
<g transform="translate(856.20,217.60) scale(0.9,1)" font-family="Liberation Sans" font-size="18.9" font-weight="normal" fill="#231815" stroke="#231815" stroke-width="0.2"><path transform="translate(-5.26,6.71) scale(0.00923,-0.00923)" d="M515 0V1237L197 1010V1180L530 1409H696V0Z" fill="#231815" stroke="#231815" stroke-width="21.7"/></g>
<g transform="translate(856.80,315.00) scale(0.9,1)" font-family="Liberation Sans" font-size="18.9" font-weight="normal" fill="#231815" stroke="#231815" stroke-width="0.2"><text x="-5.26" y="6.71">2</text></g>
<path d="M939.6,228.0 L904.0,228.0 L904.0,260.1" fill="none" stroke="#262626" stroke-width="1.7" stroke-linejoin="miter" stroke-linecap="butt"/>
<path d="M894.3,260.1 L913.6,260.1" fill="none" stroke="#262626" stroke-width="1.7" stroke-linejoin="miter" stroke-linecap="butt"/>
<path d="M897.6,268.0 L909.4,268.0" fill="none" stroke="#262626" stroke-width="1.7" stroke-linejoin="miter" stroke-linecap="butt"/>
<path d="M904.0,268.0 L904.0,300.4 L939.6,300.4" fill="none" stroke="#262626" stroke-width="1.7" stroke-linejoin="miter" stroke-linecap="butt"/>
<g transform="translate(930.80,261.50) scale(0.75,1)" font-family="Liberation Sans" font-size="19.5" font-weight="normal" fill="#231815" stroke="#231815" stroke-width="0.5"><text x="-6.50" y="6.92">V</text></g>
<g transform="translate(921.00,217.60) scale(0.9,1)" font-family="Liberation Sans" font-size="18.9" font-weight="normal" fill="#231815" stroke="#231815" stroke-width="0.2"><path transform="translate(-5.26,6.71) scale(0.00923,-0.00923)" d="M515 0V1237L197 1010V1180L530 1409H696V0Z" fill="#231815" stroke="#231815" stroke-width="21.7"/></g>
<g transform="translate(921.80,315.00) scale(0.9,1)" font-family="Liberation Sans" font-size="18.9" font-weight="normal" fill="#231815" stroke="#231815" stroke-width="0.2"><text x="-5.26" y="6.71">2</text></g>
<path d="M789.2,354.2 L804.4,354.2" fill="none" stroke="#231815" stroke-width="2.0" stroke-linejoin="miter" stroke-linecap="butt"/>
<path d="M796.8,346.6 L796.8,361.8" fill="none" stroke="#231815" stroke-width="2.0" stroke-linejoin="miter" stroke-linecap="butt"/>
<path d="M789.2,382.4 L804.4,382.4" fill="none" stroke="#231815" stroke-width="2.0" stroke-linejoin="miter" stroke-linecap="butt"/>
<path d="M874.3,348.2 L838.8,348.2 L838.8,366.3" fill="none" stroke="#262626" stroke-width="1.7" stroke-linejoin="miter" stroke-linecap="butt"/>
<circle cx="838.8" cy="376.8" r="9.8" fill="none" stroke="#262626" stroke-width="1.8"/>
<circle cx="838.8" cy="392.2" r="9.8" fill="none" stroke="#262626" stroke-width="1.8"/>
<path d="M838.8,402.8 L838.8,420.6 L874.3,420.6" fill="none" stroke="#262626" stroke-width="1.7" stroke-linejoin="miter" stroke-linecap="butt"/>
<path d="M849.7,358.3 L863.0,358.3" fill="none" stroke="#262626" stroke-width="1.7" stroke-linejoin="miter" stroke-linecap="butt"/>
<path d="M862.5,355.5 L868.5,358.3 L862.5,361.1 Z" fill="#262626"/>
<g transform="translate(866.70,383.00) scale(0.85,1)" font-family="Liberation Sans" font-size="16.5" font-weight="normal" fill="#231815" stroke="#231815" stroke-width="0.5"><text x="-12.38" y="5.86">m</text><text x="1.37" y="5.86">A</text></g>
<g transform="translate(856.20,337.80) scale(0.9,1)" font-family="Liberation Sans" font-size="18.9" font-weight="normal" fill="#231815" stroke="#231815" stroke-width="0.2"><text x="-5.26" y="6.71">3</text></g>
<g transform="translate(856.80,435.20) scale(0.9,1)" font-family="Liberation Sans" font-size="18.9" font-weight="normal" fill="#231815" stroke="#231815" stroke-width="0.2"><text x="-5.26" y="6.71">4</text></g>
<path d="M939.6,348.2 L904.0,348.2 L904.0,380.3" fill="none" stroke="#262626" stroke-width="1.7" stroke-linejoin="miter" stroke-linecap="butt"/>
<path d="M894.3,380.3 L913.6,380.3" fill="none" stroke="#262626" stroke-width="1.7" stroke-linejoin="miter" stroke-linecap="butt"/>
<path d="M897.6,388.2 L909.4,388.2" fill="none" stroke="#262626" stroke-width="1.7" stroke-linejoin="miter" stroke-linecap="butt"/>
<path d="M904.0,388.2 L904.0,420.6 L939.6,420.6" fill="none" stroke="#262626" stroke-width="1.7" stroke-linejoin="miter" stroke-linecap="butt"/>
<g transform="translate(930.80,381.70) scale(0.75,1)" font-family="Liberation Sans" font-size="19.5" font-weight="normal" fill="#231815" stroke="#231815" stroke-width="0.5"><text x="-6.50" y="6.92">V</text></g>
<g transform="translate(921.00,337.80) scale(0.9,1)" font-family="Liberation Sans" font-size="18.9" font-weight="normal" fill="#231815" stroke="#231815" stroke-width="0.2"><text x="-5.26" y="6.71">3</text></g>
<g transform="translate(921.80,435.20) scale(0.9,1)" font-family="Liberation Sans" font-size="18.9" font-weight="normal" fill="#231815" stroke="#231815" stroke-width="0.2"><text x="-5.26" y="6.71">4</text></g>
<path d="M836.0,469.4 L875.2,469.4 L875.2,485.4" fill="none" stroke="#262626" stroke-width="1.7" stroke-linejoin="miter" stroke-linecap="butt"/>
<path d="M875.2,525.2 L875.2,541.4 L836.0,541.4" fill="none" stroke="#262626" stroke-width="1.7" stroke-linejoin="miter" stroke-linecap="butt"/>
<g transform="translate(858.00,458.00) scale(0.9,1)" font-family="Liberation Sans" font-size="18.9" font-weight="normal" fill="#231815" stroke="#231815" stroke-width="0.2"><text x="-5.26" y="6.71">7</text></g>
<g transform="translate(857.50,556.00) scale(0.9,1)" font-family="Liberation Sans" font-size="18.9" font-weight="normal" fill="#231815" stroke="#231815" stroke-width="0.2"><text x="-5.26" y="6.71">8</text></g>
<path d="M885.3,470.8 L897.7,470.8" fill="none" stroke="#231815" stroke-width="1.6" stroke-linejoin="miter" stroke-linecap="butt"/>
<path d="M891.5,464.6 L891.5,477.0" fill="none" stroke="#231815" stroke-width="1.6" stroke-linejoin="miter" stroke-linecap="butt"/>
<path d="M885.3,541.8 L897.7,541.8" fill="none" stroke="#231815" stroke-width="1.6" stroke-linejoin="miter" stroke-linecap="butt"/>
<g transform="translate(875.20,497.00) scale(0.82,1)" font-family="Liberation Sans" font-size="16.5" font-weight="normal" fill="#231815" stroke="#231815" stroke-width="0.7"><text x="-11.92" y="5.86">D</text><text x="0.00" y="5.86">C</text></g>
<g transform="translate(875.50,514.40) scale(0.87,1)" font-family="Liberation Sans" font-size="17.5" font-weight="normal" fill="#231815" stroke="#231815" stroke-width="0.3"><text x="-30.41" y="6.21">2</text><text x="-20.68" y="6.21">0</text><text x="-10.95" y="6.21">−</text><text x="-0.73" y="6.21">3</text><text x="9.01" y="6.21">2</text><text x="18.74" y="6.21">V</text></g>
</svg>
</body></html>
